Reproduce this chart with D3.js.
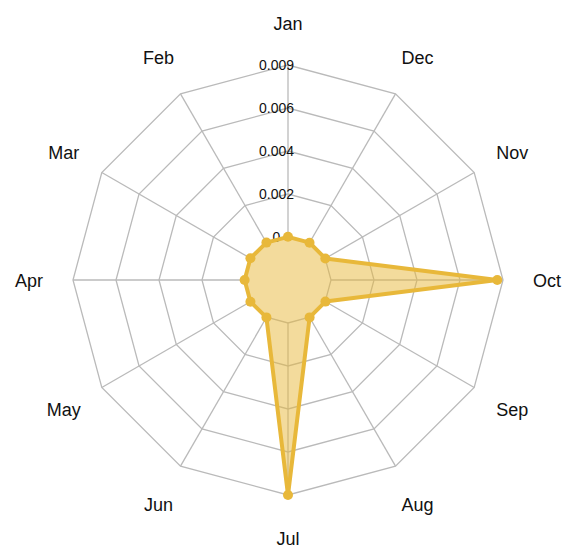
<!DOCTYPE html>
<html>
<head>
<meta charset="utf-8">
<script src="https://cdn.jsdelivr.net/npm/d3@7"></script>
<style>
  html, body { margin: 0; padding: 0; background: #fff; }
  svg { display: block; font-family: "Liberation Sans", Arial, sans-serif; }
</style>
</head>
<body>
<svg id="chart" width="582" height="549"></svg>
<script>
// Monthly values, months laid out counter-clockwise from the top
const months = ["Jan", "Feb", "Mar", "Apr", "May", "Jun", "Jul", "Aug", "Sep", "Oct", "Nov", "Dec"];
const values = [0.00001, 0.00001, 0.00002, 0.00002, 0.00002, 0.00001, 0.009, 0.00001, 0.00001, 0.0087, 0.000005, 0.000005];

// Grid rings and their labels
const ringValues = [0, 0.00225, 0.0045, 0.00675, 0.009];
const ringLabels = ["0", "0.002", "0.004", "0.006", "0.009"];

const cx = 288, cy = 280;
const innerR = 43, outerR = 215;
const labelRx = 259, labelRy = 257.7, labelDy = 1.4;
const lineColor = "#e8b83a";
const gridColor = "#bababa";

const svg = d3.select("#chart");
const g = svg.append("g").attr("transform", `translate(${cx},${cy})`);

const r = d3.scaleLinear().domain([0, 0.009]).range([innerR, outerR]);
const angle = d3.scalePoint().domain(months).range([0, -2 * Math.PI * (months.length - 1) / months.length]);

const pt = (a, rad) => [rad * Math.sin(a), -rad * Math.cos(a)];

// Ring polygons
const ringLine = d3.lineRadial()
  .angle(d => angle(d))
  .curve(d3.curveLinearClosed);

g.append("g").selectAll("path")
  .data(ringValues)
  .join("path")
  .attr("d", v => ringLine.radius(() => r(v))(months))
  .attr("fill", "none")
  .attr("stroke", gridColor)
  .attr("stroke-width", 1.3);

// Spokes
g.append("g").selectAll("line")
  .data(months)
  .join("line")
  .attr("x1", m => pt(angle(m), r(0))[0])
  .attr("y1", m => pt(angle(m), r(0))[1])
  .attr("x2", m => pt(angle(m), r(0.009))[0])
  .attr("y2", m => pt(angle(m), r(0.009))[1])
  .attr("stroke", gridColor)
  .attr("stroke-width", 1.3);

// Ring value labels along the top spoke
g.append("g").selectAll("text")
  .data(ringValues)
  .join("text")
  .attr("x", -11.5)
  .attr("y", v => -r(v))
  .attr("text-anchor", "middle")
  .attr("dominant-baseline", "central")
  .attr("font-size", 14)
  .attr("fill", "#111")
  .text((v, i) => ringLabels[i]);

// Month labels
g.append("g").selectAll("text")
  .data(months)
  .join("text")
  .attr("x", m => labelRx * Math.sin(angle(m)))
  .attr("y", m => -labelRy * Math.cos(angle(m)) + labelDy)
  .attr("text-anchor", "middle")
  .attr("dominant-baseline", "central")
  .attr("font-size", 18)
  .attr("fill", "#111")
  .text(m => m);

// Data area
const dataLine = d3.lineRadial()
  .angle((d, i) => angle(months[i]))
  .radius(d => r(d))
  .curve(d3.curveLinearClosed);

g.append("path")
  .attr("d", dataLine(values))
  .attr("fill", lineColor)
  .attr("fill-opacity", 0.5)
  .attr("stroke", lineColor)
  .attr("stroke-width", 4)
  .attr("stroke-linejoin", "round");

g.append("g").selectAll("circle")
  .data(values)
  .join("circle")
  .attr("cx", (d, i) => pt(angle(months[i]), r(d))[0])
  .attr("cy", (d, i) => pt(angle(months[i]), r(d))[1])
  .attr("r", 5)
  .attr("fill", lineColor);
</script>
</body>
</html>
